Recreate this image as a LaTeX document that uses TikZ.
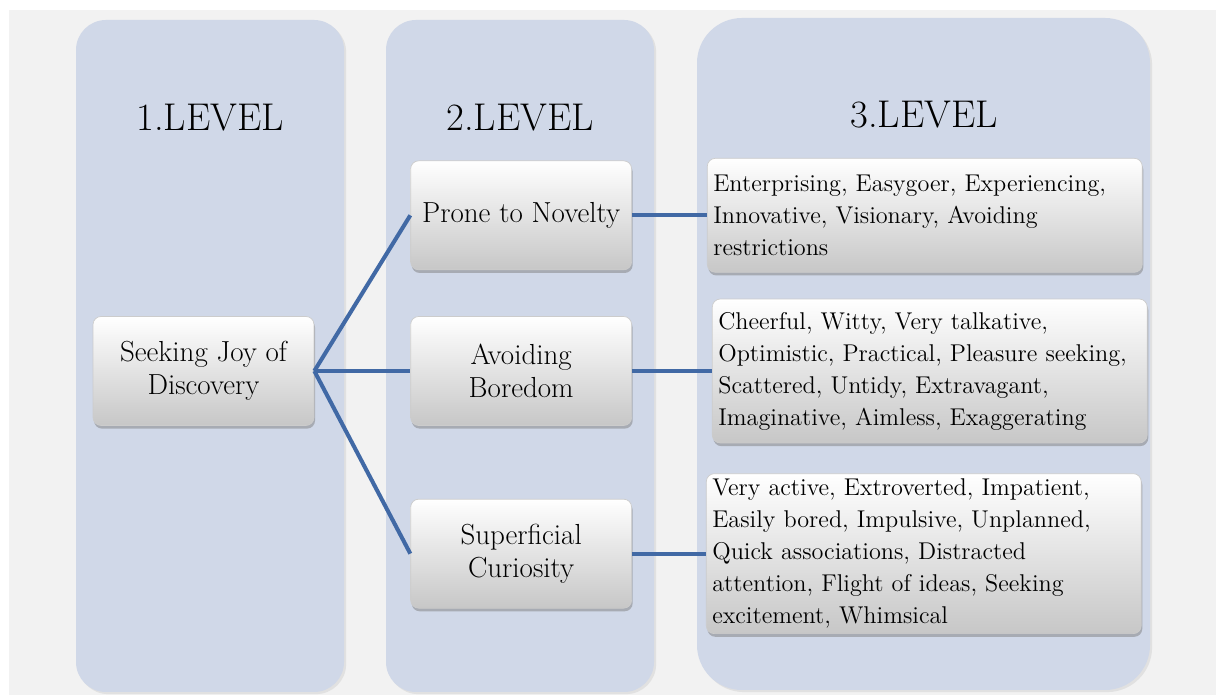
\documentclass[tikz,border=0pt]{standalone}
\usepackage{tikz}
\usetikzlibrary{positioning, shadows}
\definecolor{pagegray}{RGB}{242,242,242}
\definecolor{colfill}{RGB}{208,216,232}
\definecolor{linkblue}{RGB}{65,105,165}
\tikzset{
    levelcol/.style={fill=colfill, draw=none, drop shadow={shadow xshift=1.2pt, shadow yshift=-1.2pt, opacity=0.15}},
    leveltitle/.style={font=\fontsize{22}{26}\selectfont, inner sep=0pt},
    graynode/.style={rectangle, rounded corners=0.16cm, draw=black!20, top color=white, middle color=white!97!black, bottom color=black!22, minimum width=4.42cm, minimum height=2.18cm, align=center, font=\fontsize{16.5}{18.7}\selectfont, drop shadow={shadow xshift=0.6pt, shadow yshift=-1.8pt, opacity=0.5}},
    traitnode/.style={rectangle, rounded corners=0.16cm, draw=black!20, top color=white, middle color=white!97!black, bottom color=black!22, text width=8.46cm, inner xsep=0.12cm, inner ysep=0.04cm, align=left, font=\fontsize{13.8}{18.2}\selectfont, drop shadow={shadow xshift=0.6pt, shadow yshift=-1.8pt, opacity=0.5}},
    mylink/.style={draw=linkblue, line width=2.3pt}
}

\begin{document}
\begin{tikzpicture}[x=0.02cm, y=0.02cm]

        \useasboundingbox (0,0) rectangle (1216,695);
        \fill[white] (0,0) rectangle (1216,695);
        \fill[pagegray] (9,0) rectangle (1216,685);

        % ------------------
        % columns
        % ------------------

        \fill[levelcol, rounded corners=0.6cm] (76,3) rectangle (344,675);
        \fill[levelcol, rounded corners=0.6cm] (386,3) rectangle (654,675);
        \fill[levelcol, rounded corners=0.9cm] (697,5) rectangle (1150,677);

        \node[leveltitle] (title1) at (210,577) {1.LEVEL};
        \node[leveltitle] (title2) at (520,577) {2.LEVEL};
        \node[leveltitle] (title3) at (924,580) {3.LEVEL};

        % ------------------
        % nodes
        % ------------------

        \node[graynode] (seek) at (203.5,324) {Seeking Joy of\\Discovery};
        \node[graynode, right=1.92cm of seek] (boredom) {Avoiding\\Boredom};
        \node[graynode, above=0.92cm of boredom] (novelty) {Prone to Novelty};
        \node[graynode, below=1.46cm of boredom] (curiosity) {Superficial\\Curiosity};

        \node[traitnode, minimum height=2.28cm, right=1.5cm of novelty] (traits1) {Enterprising, Easygoer, Experiencing,\\Innovative, Visionary, Avoiding\\restrictions};
        \node[traitnode, minimum height=2.88cm, right=1.6cm of boredom] (traits2) {Cheerful, Witty, Very talkative,\\Optimistic, Practical, Pleasure seeking,\\Scattered, Untidy, Extravagant,\\Imaginative, Aimless, Exaggerating};
        \node[traitnode, minimum height=3.2cm, right=1.48cm of curiosity] (traits3) {Very active, Extroverted, Impatient,\\Easily bored, Impulsive, Unplanned,\\Quick associations, Distracted\\attention, Flight of ideas, Seeking\\excitement, Whimsical};

        % ------------------
        % links
        % ------------------

        \draw[mylink] (seek.east) -- (novelty.west);
        \draw[mylink] (seek.east) -- (boredom.west);
        \draw[mylink] (seek.east) -- (curiosity.west);

        \draw[mylink] (novelty.east) -- (traits1.west);
        \draw[mylink] (boredom.east) -- (traits2.west);
        \draw[mylink] (curiosity.east) -- (traits3.west);

\end{tikzpicture}
\end{document}
